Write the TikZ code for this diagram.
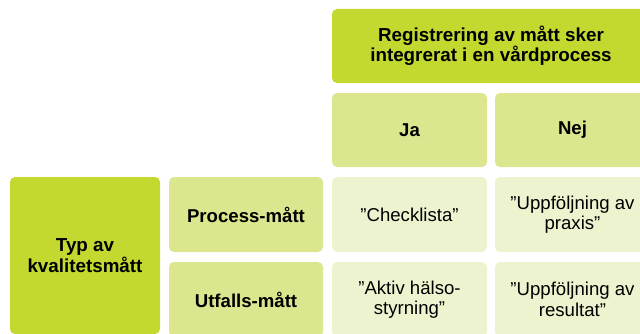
\documentclass[tikz,border=0pt]{standalone}
\usepackage{fontspec}
\setmainfont{Liberation Sans}
\usepackage{xcolor}
\usepackage{tikz}
\usetikzlibrary{positioning}

\definecolor{limedark}{HTML}{C3D930}
\definecolor{limemid}{HTML}{DCE68E}
\definecolor{limelight}{HTML}{EEF3CF}

\begin{document}
\begin{tikzpicture}[
  x=1pt, y=1pt,
  every node/.style={rounded corners=5pt, inner sep=0pt, outer sep=0pt, align=center,
    font=\fontsize{18.6}{20.5}\selectfont},
  headbox/.style={fill=limedark, font=\fontsize{18.8}{20.5}\selectfont\bfseries},
  labelbox/.style={fill=limemid, font=\fontsize{18.6}{20.5}\selectfont\bfseries},
  cellbox/.style={fill=limelight},
]
  \clip (0,0) rectangle (640,333);

  % Nodes
  \node[headbox, minimum width=318pt, minimum height=74pt] (reg) at (491, 287)
    {Registrering av mått sker\\integrerat i en vårdprocess};
  \node[labelbox, minimum width=155pt, minimum height=74pt] (ja)  at (409.5, 203) {Ja};
  \node[labelbox, minimum width=155pt, minimum height=74pt] (nej) at (572.5, 203) {Nej};

  \node[headbox, minimum width=150pt, minimum height=157pt] (typ) at (85, 77.5)
    {Typ av\\kvalitetsmått};
  \node[labelbox, minimum width=154pt, minimum height=75pt] (proc) at (246, 118.5) {Process-mått};
  \node[labelbox, minimum width=154pt, minimum height=75pt] (utf)  at (246, 33.5) {Utfalls-mått};

  \node[cellbox, minimum width=155pt, minimum height=75pt] (check)  at (409.5, 118.5) {”Checklista”};
  \node[cellbox, minimum width=155pt, minimum height=75pt] (praxis) at (572.5, 118.5) {”Uppföljning av\\praxis”};
  \node[cellbox, minimum width=155pt, minimum height=75pt] (aktiv)  at (409.5, 33.5) {”Aktiv hälso-\\styrning”};
  \node[cellbox, minimum width=155pt, minimum height=75pt] (result) at (572.5, 33.5) {”Uppföljning av\\resultat”};

\end{tikzpicture}
\end{document}
